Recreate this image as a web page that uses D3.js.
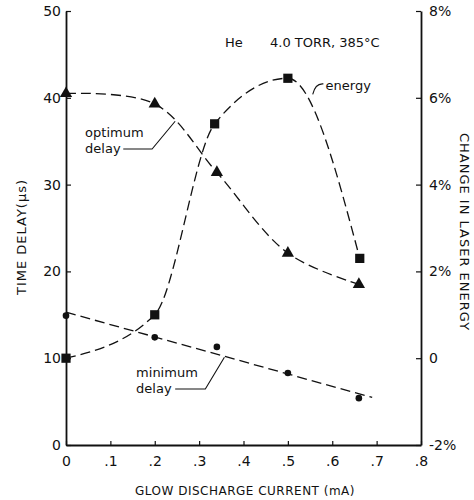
<!DOCTYPE html>
<html>
<head>
<meta charset="utf-8">
<script src="https://cdn.jsdelivr.net/npm/d3@7"></script>
<style>
body { margin: 0; background: #fff; }
text { font-family: "DejaVu Sans", sans-serif; fill: #111; }
</style>
</head>
<body>
<div id="container"></div>
<script>
/* DATA */
const current = [0, 0.2, 0.34, 0.5, 0.66];             // glow discharge current, mA
const optimumDelay = [40.5, 39.3, 31.4, 22.1, 18.5];   // µs
const minimumDelay = [14.9, 12.4, 11.3, 8.3, 5.4];     // µs
const energyCurrent = [0, 0.2, 0.335, 0.5, 0.662];
const energyChange = [0, 1.0, 5.4, 6.45, 2.3];         // %
const minFitEnd = 0.69;

const xTicks = [0, .1, .2, .3, .4, .5, .6, .7, .8];
const xTickLabels = ["0", ".1", ".2", ".3", ".4", ".5", ".6", ".7", ".8"];
const yTicks = [0, 10, 20, 30, 40, 50];
const energyTicks = [-2, 0, 2, 4, 6, 8];
const energyTickLabels = ["-2%", "0", "2%", "4%", "6%", "8%"];

/* CONSTANTS */
const width = 474, height = 500;
const m = {l: 66, r: 421, t: 11, b: 445};
const dash = "10,5";

/* SCALES */
const x = d3.scaleLinear().domain([0, .8]).range([m.l, m.r]);
const y = d3.scaleLinear().domain([0, 50]).range([m.b, m.t]);
const yE = d3.scaleLinear().domain([-2, 8]).range([m.b, m.t]);

const svg = d3.select("#container")
  .append("svg")
  .attr("width", width)
  .attr("height", height);

/* AXES */
const gL = svg.append("g")
  .attr("transform", `translate(${m.l},0)`)
  .call(d3.axisLeft(y).tickValues(yTicks).tickFormat(d3.format("d"))
    .tickSizeInner(-5).tickSizeOuter(0).tickPadding(5));

const gR = svg.append("g")
  .attr("transform", `translate(${m.r},0)`)
  .call(d3.axisRight(yE).tickValues(energyTicks).tickFormat((d, i) => energyTickLabels[i])
    .tickSizeInner(-5).tickSizeOuter(0).tickPadding(8));

const gB = svg.append("g")
  .attr("transform", `translate(0,${m.b})`)
  .call(d3.axisBottom(x).tickValues(xTicks).tickFormat((d, i) => xTickLabels[i])
    .tickSizeInner(-4).tickSizeOuter(0).tickPadding(11));

[gL, gR, gB].forEach(g => {
  g.attr("font-family", null).attr("font-size", null);
  g.select(".domain").attr("stroke", "#111").attr("stroke-width", 1.8);
  g.selectAll(".tick line").attr("stroke", "#111").attr("stroke-width", 1.2);
  g.selectAll(".tick text").attr("font-size", 14).attr("fill", "#111");
});

/* AXIS TITLES */
svg.append("text")
  .attr("transform", "translate(26,237) rotate(-90)")
  .attr("text-anchor", "middle")
  .attr("font-size", 13)
  .attr("letter-spacing", 1)
  .text("TIME DELAY(µs)");

svg.append("text")
  .attr("transform", "translate(460,232) rotate(90)")
  .attr("text-anchor", "middle")
  .attr("font-size", 13)
  .attr("letter-spacing", 1)
  .text("CHANGE IN LASER ENERGY");

svg.append("text")
  .attr("x", 245).attr("y", 495)
  .attr("text-anchor", "middle")
  .attr("font-size", 12)
  .attr("letter-spacing", 0.5)
  .text("GLOW DISCHARGE CURRENT (mA)");

svg.append("text")
  .attr("x", 225).attr("y", 47)
  .attr("font-size", 13)
  .text("He");
svg.append("text")
  .attr("x", 270).attr("y", 47)
  .attr("font-size", 13)
  .text("4.0 TORR, 385°C");

/* CURVES */
const curveStyle = p => p.attr("fill", "none").attr("stroke", "#111")
  .attr("stroke-width", 1.3).attr("stroke-dasharray", dash);

svg.append("path")
  .datum(optimumDelay)
  .attr("d", d3.line().x((d, i) => x(current[i])).y(d => y(d)).curve(d3.curveCatmullRom.alpha(0.5)))
  .call(curveStyle);

svg.append("path")
  .datum(energyChange)
  .attr("d", d3.line().x((d, i) => x(energyCurrent[i])).y(d => yE(d)).curve(d3.curveMonotoneX))
  .call(curveStyle);

// minimum delay: straight fitted line
const mx = d3.mean(current), my = d3.mean(minimumDelay);
const slope = d3.sum(current, (c, i) => (c - mx) * (minimumDelay[i] - my)) /
  d3.sum(current, c => (c - mx) * (c - mx));
const icpt = my - slope * mx;
svg.append("path")
  .datum([0, minFitEnd])
  .attr("d", d3.line().x(d => x(d)).y(d => y(icpt + slope * d)))
  .call(curveStyle);

/* MARKERS */
svg.selectAll(".tri")
  .data(optimumDelay)
  .join("path")
  .attr("class", "tri")
  .attr("transform", (d, i) => `translate(${x(current[i])},${y(d)})`)
  .attr("d", d3.symbol().type(d3.symbolTriangle).size(65))
  .attr("fill", "#111");

svg.selectAll(".sq")
  .data(energyChange)
  .join("path")
  .attr("class", "sq")
  .attr("transform", (d, i) => `translate(${x(energyCurrent[i])},${yE(d)})`)
  .attr("d", d3.symbol().type(d3.symbolSquare).size(85))
  .attr("fill", "#111");

svg.selectAll(".dot")
  .data(minimumDelay)
  .join("circle")
  .attr("class", "dot")
  .attr("cx", (d, i) => x(current[i]))
  .attr("cy", d => y(d))
  .attr("r", 3.3)
  .attr("fill", "#111");

/* ANNOTATIONS */
const lead = d3.line().x(d => x(d[0])).y(d => y(d[1]));
const leadStyle = p => p.attr("fill", "none").attr("stroke", "#111").attr("stroke-width", 1.1);

svg.append("text").attr("x", x(0.043)).attr("y", y(35.5)).attr("font-size", 13).text("optimum");
svg.append("text").attr("x", x(0.043)).attr("y", y(33.6)).attr("font-size", 13).text("delay");
svg.append("path").datum([[0.129, 34.1], [0.194, 34.1], [0.246, 37.3]]).attr("d", lead).call(leadStyle);

svg.append("text").attr("x", x(0.158)).attr("y", y(7.8)).attr("font-size", 13).text("minimum");
svg.append("text").attr("x", x(0.158)).attr("y", y(6.0)).attr("font-size", 13).text("delay");
svg.append("path").datum([[0.246, 6.45], [0.314, 6.45], [0.357, 10.1]]).attr("d", lead).call(leadStyle);

svg.append("text").attr("x", x(0.585)).attr("y", y(40.9)).attr("font-size", 13).text("energy");
svg.append("path")
  .attr("d", `M${x(0.556)},${y(40.4)} Q${x(0.562)},${y(41.7)} ${x(0.58)},${y(41.6)}`)
  .call(leadStyle);
</script>
</body>
</html>
